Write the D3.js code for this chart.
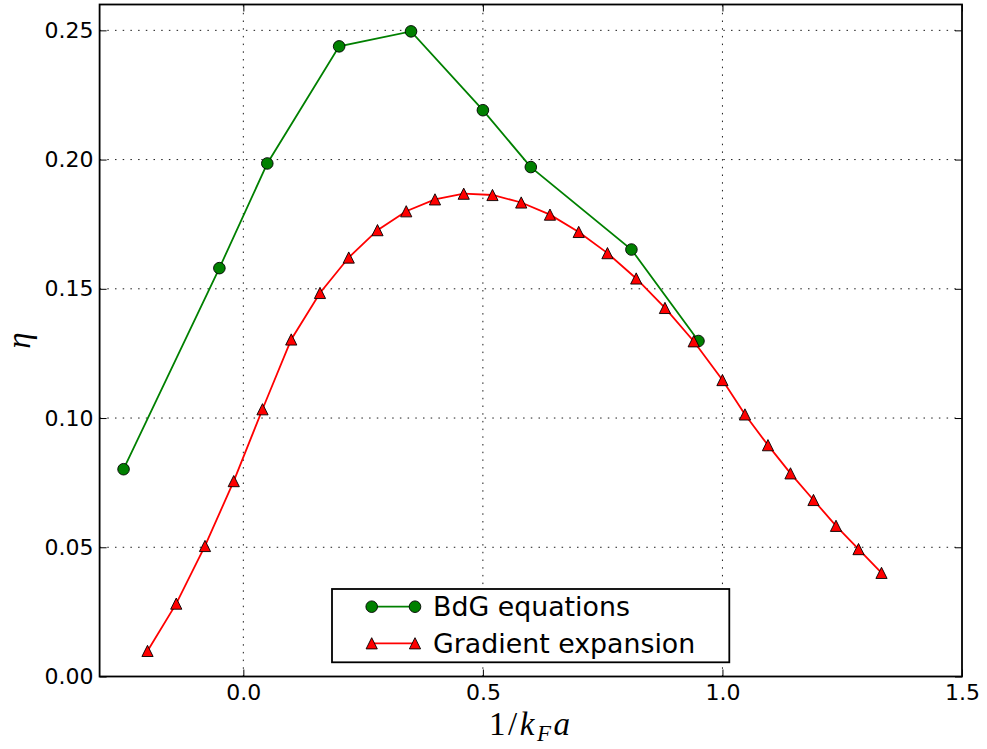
<!DOCTYPE html>
<html>
<head>
<meta charset="utf-8">
<script src="https://cdn.jsdelivr.net/npm/d3@7"></script>
<style>
  html, body { margin: 0; padding: 0; background: #fff; }
  svg { display: block; }
</style>
</head>
<body>
<svg id="chart" width="987" height="749"></svg>
<script>
// ---- data ----
const bdgX = [-0.25, -0.05, 0.05, 0.20, 0.35, 0.50, 0.60, 0.81, 0.95];
const bdgY = [0.0802, 0.158, 0.1985, 0.2438, 0.2496, 0.2191, 0.1971, 0.1652, 0.1298];
const gradX = [-0.20, -0.14, -0.08, -0.02, 0.04, 0.10, 0.16, 0.22, 0.28, 0.34, 0.40, 0.46, 0.52, 0.58,
               0.64, 0.70, 0.76, 0.82, 0.88, 0.94, 1.00, 1.047, 1.095, 1.142, 1.19, 1.237, 1.284, 1.332];
const gradY = [0.0099, 0.0282, 0.0505, 0.0756, 0.1034, 0.1304, 0.1484, 0.1621, 0.1727, 0.1800, 0.1846,
               0.1868, 0.1863, 0.1834, 0.1787, 0.1720, 0.1638, 0.1540, 0.1426, 0.1297, 0.1147, 0.1014,
               0.0895, 0.0786, 0.0683, 0.0583, 0.0493, 0.0401];
const xTicks = [0.0, 0.5, 1.0, 1.5];
const yTicks = [0.00, 0.05, 0.10, 0.15, 0.20, 0.25];
const seriesNames = ["BdG equations", "Gradient expansion"];

// ---- layout ----
const pLeft = 99.6, pRight = 962, pTop = 4.5, pBottom = 676.5;
const svg = d3.select("#chart");
svg.append("rect").attr("width", 987).attr("height", 749).attr("fill", "#fff");

const x = d3.scaleLinear().domain([-0.3, 1.5]).range([pLeft, pRight]);
const y = d3.scaleLinear().domain([0, 0.26]).range([pBottom, pTop]);

const tickFont = "'DejaVu Sans', sans-serif";

// grid
const grid = svg.append("g").attr("stroke", "#000").attr("stroke-width", 0.9)
  .attr("stroke-dasharray", "1.5,6.2").attr("fill", "none");
xTicks.filter(v => x(v) > pLeft + 1 && x(v) < pRight - 1).forEach(v => {
  grid.append("line").attr("x1", x(v)).attr("x2", x(v)).attr("y1", pBottom).attr("y2", pTop);
});
yTicks.filter(v => y(v) > pTop + 1 && y(v) < pBottom - 1).forEach(v => {
  grid.append("line").attr("x1", pLeft).attr("x2", pRight).attr("y1", y(v)).attr("y2", y(v));
});

// axes (inward ticks on all sides)
function styleAxis(g) {
  g.select(".domain").remove();
  g.selectAll(".tick line").attr("stroke", "#000").attr("stroke-width", 1);
  g.selectAll(".tick text").attr("font-family", tickFont).attr("font-size", "22px").attr("fill", "#000");
}
svg.append("g").attr("transform", `translate(0,${pBottom})`)
  .call(d3.axisBottom(x).tickValues(xTicks).tickFormat(d => d3.format(".1f")(Math.abs(d) < 1e-9 ? 0 : d))
        .tickSizeInner(-7).tickSizeOuter(0).tickPadding(8))
  .call(styleAxis);
svg.append("g").attr("transform", `translate(0,${pTop})`)
  .call(d3.axisTop(x).tickValues(xTicks).tickFormat("").tickSizeInner(-7).tickSizeOuter(0))
  .call(styleAxis);
svg.append("g").attr("transform", `translate(${pLeft},0)`)
  .call(d3.axisLeft(y).tickValues(yTicks).tickFormat(d3.format(".2f"))
        .tickSizeInner(-7).tickSizeOuter(0).tickPadding(6))
  .call(styleAxis);
svg.append("g").attr("transform", `translate(${pRight},0)`)
  .call(d3.axisRight(y).tickValues(yTicks).tickFormat("").tickSizeInner(-7).tickSizeOuter(0))
  .call(styleAxis);

// frame
svg.append("rect").attr("x", pLeft).attr("y", pTop).attr("width", pRight - pLeft).attr("height", pBottom - pTop)
  .attr("fill", "none").attr("stroke", "#000").attr("stroke-width", 1.8);

// series
const line = d3.line().x(d => x(d[0])).y(d => y(d[1]));
const bdg = bdgX.map((v, i) => [v, bdgY[i]]);
const grad = gradX.map((v, i) => [v, gradY[i]]);
const triPath = d3.symbol().type({draw(ctx, s) { const h = 5.6; ctx.moveTo(0, -h); ctx.lineTo(h, h); ctx.lineTo(-h, h); ctx.closePath(); }})();

const plot = svg.append("g");
plot.append("path").datum(bdg).attr("d", line).attr("fill", "none").attr("stroke", "#008000").attr("stroke-width", 1.8);
plot.selectAll("circle.bdg").data(bdg).join("circle").attr("class", "bdg")
  .attr("cx", d => x(d[0])).attr("cy", d => y(d[1])).attr("r", 5.8)
  .attr("fill", "#008000").attr("stroke", "#000").attr("stroke-width", 0.9);
plot.append("path").datum(grad).attr("d", line).attr("fill", "none").attr("stroke", "#ff0000").attr("stroke-width", 1.8);
plot.selectAll("path.grad").data(grad).join("path").attr("class", "grad")
  .attr("d", triPath).attr("transform", d => `translate(${x(d[0])},${y(d[1])})`)
  .attr("fill", "#ff0000").attr("stroke", "#000").attr("stroke-width", 0.9);

// legend
const lg = svg.append("g");
lg.append("rect").attr("x", 332).attr("y", 589).attr("width", 397.3).attr("height", 73.3)
  .attr("fill", "#fff").attr("stroke", "#000").attr("stroke-width", 1.8);
const rows = [606.7, 643.3];
const colors = ["#008000", "#ff0000"];
rows.forEach((ry, i) => {
  lg.append("line").attr("x1", 371.7).attr("x2", 415).attr("y1", ry).attr("y2", ry)
    .attr("stroke", colors[i]).attr("stroke-width", 1.8);
  [371.7, 415].forEach(mx => {
    if (i === 0) {
      lg.append("circle").attr("cx", mx).attr("cy", ry).attr("r", 5.8)
        .attr("fill", colors[i]).attr("stroke", "#000").attr("stroke-width", 0.9);
    } else {
      lg.append("path").attr("d", triPath).attr("transform", `translate(${mx},${ry})`)
        .attr("fill", colors[i]).attr("stroke", "#000").attr("stroke-width", 0.9);
    }
  });
  lg.append("text").attr("x", 433).attr("y", ry).attr("dy", "0.36em")
    .attr("font-family", tickFont).attr("font-size", "26.8px").attr("fill", "#000")
    .text(seriesNames[i]);
});

// axis labels
const xl = svg.append("text").attr("x", (pLeft + pRight) / 2).attr("y", 735).attr("text-anchor", "middle")
  .attr("font-family", "'Liberation Serif', serif").attr("font-size", "33px").attr("fill", "#000")
  .attr("letter-spacing", "2.5px");
xl.append("tspan").text("1/");
xl.append("tspan").attr("font-style", "italic").text("k");
xl.append("tspan").attr("font-style", "italic").attr("font-size", "23px").attr("dy", 6).text("F");
xl.append("tspan").attr("font-style", "italic").attr("dy", -6).text("a");

svg.append("text").attr("transform", `translate(30,${(pTop + pBottom) / 2}) rotate(-90)`)
  .attr("text-anchor", "middle").attr("font-family", "'Liberation Serif', serif")
  .attr("font-style", "italic").attr("font-size", "33px").attr("fill", "#000").text("η");
</script>
</body>
</html>
